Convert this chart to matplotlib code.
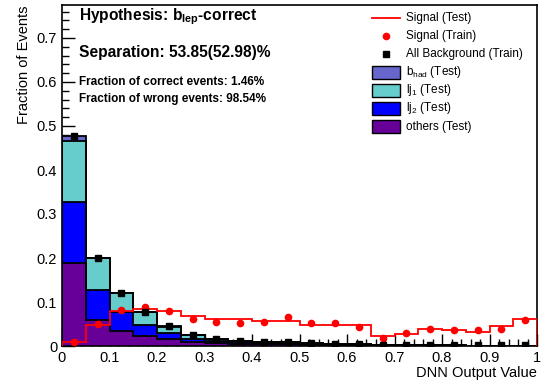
import numpy as np
import matplotlib.pyplot as plt
from matplotlib.lines import Line2D
from matplotlib.patches import Rectangle
from matplotlib.ticker import MultipleLocator

plt.rcParams['font.family'] = ['Liberation Sans', 'DejaVu Sans']
plt.rcParams['mathtext.fontset'] = 'custom'
plt.rcParams['mathtext.rm'] = 'Liberation Sans'
plt.rcParams['mathtext.bf'] = 'Liberation Sans:bold'

edges = np.linspace(0, 1, 21)
centers = 0.5 * (edges[:-1] + edges[1:])

# background components (Test), stacked bottom -> top
others = [0.189, 0.059, 0.035, 0.023, 0.016, 0.010, 0.007, 0.005, 0.004, 0.004,
          0.003, 0.002, 0.002, 0.001, 0.001, 0.001, 0.001, 0.000, 0.000, 0.000]
lj2 = [0.139, 0.068, 0.042, 0.025, 0.013, 0.006, 0.004, 0.003, 0.002, 0.002,
       0.002, 0.001, 0.001, 0.001, 0.001, 0.000, 0.000, 0.000, 0.000, 0.000]
lj1 = [0.139, 0.072, 0.043, 0.029, 0.015, 0.009, 0.005, 0.003, 0.002, 0.002,
       0.001, 0.002, 0.001, 0.001, 0.000, 0.001, 0.001, 0.001, 0.001, 0.001]
bhad = [0.011, 0.001, 0.001, 0.001, 0.001, 0.000, 0.000, 0.000, 0.000, 0.000,
        0.000, 0.000, 0.000, 0.000, 0.000, 0.000, 0.000, 0.000, 0.000, 0.000]

bkg_train = [0.478, 0.199, 0.120, 0.077, 0.045, 0.024, 0.016, 0.012, 0.010, 0.009,
             0.006, 0.005, 0.004, 0.003, 0.002, 0.002, 0.002, 0.002, 0.002, 0.002]

sig_test = [0.008, 0.048, 0.080, 0.084, 0.080, 0.069, 0.061, 0.061, 0.056, 0.056,
            0.048, 0.048, 0.048, 0.023, 0.027, 0.039, 0.036, 0.032, 0.045, 0.061]
sig_train = [0.010, 0.049, 0.082, 0.089, 0.080, 0.061, 0.054, 0.052, 0.055, 0.065,
             0.053, 0.053, 0.044, 0.019, 0.029, 0.039, 0.037, 0.036, 0.039, 0.060]

layers = [(others, '#660099'), (lj2, '#0000ff'), (lj1, '#66cccc'), (bhad, '#6666cc')]

W, H = 542, 380
fig = plt.figure(figsize=(W / 100, H / 100), dpi=100)
ax = fig.add_axes([62 / W, 34 / H, 475 / W, 341 / H])

base = np.zeros(20)
for vals, col in layers:
    top = base + np.array(vals)
    ax.stairs(top, edges, baseline=base, fill=True, color=col, zorder=2)
    base = top
base = np.zeros(20)
for vals, col in layers:
    base = base + np.array(vals)
    ax.stairs(base, edges, color='black', lw=1.3, zorder=3)

ax.stairs(sig_test, edges, color='red', lw=1.3, zorder=4)
ax.plot(centers, sig_train, 'o', color='red', ms=4.5, zorder=5)
ax.plot(centers, bkg_train, 's', color='black', ms=4.5, zorder=5)

ax.set_xlim(0, 1)
ax.set_ylim(0, 0.775)
ax.xaxis.set_major_locator(MultipleLocator(0.1))
ax.xaxis.set_minor_locator(MultipleLocator(0.02))
ax.yaxis.set_major_locator(MultipleLocator(0.1))
ax.yaxis.set_minor_locator(MultipleLocator(0.02))
fmt = plt.FuncFormatter(lambda v, p: '%g' % round(v, 2))
ax.xaxis.set_major_formatter(fmt)
ax.yaxis.set_major_formatter(fmt)
ax.tick_params(which='both', direction='in', top=False, right=False, labelsize=10.5)
ax.tick_params(which='major', length=9, width=1)
ax.tick_params(which='minor', length=5, width=1)
for s in ax.spines.values():
    s.set_linewidth(1.2)

ax.set_ylabel('Fraction of Events', fontsize=10.5, loc='top')
ax.set_xlabel('DNN Output Value', fontsize=10.5, loc='right', labelpad=1)

fig.text(79 / W, 1 - 17 / H, r'Hypothesis: b$_{\bf lep}$-correct', fontsize=11.2,
         fontweight='bold', va='center')
fig.text(79 / W, 1 - 52 / H, 'Separation: 53.85(52.98)%', fontsize=11.2,
         fontweight='bold', va='center')
fig.text(79 / W, 1 - 82 / H, 'Fraction of correct events: 1.46%', fontsize=8.5,
         fontweight='bold', va='center')
fig.text(79 / W, 1 - 99 / H, 'Fraction of wrong events: 98.54%', fontsize=8.5,
         fontweight='bold', va='center')

# legend, drawn row by row
labels = ['Signal (Test)', 'Signal (Train)', 'All Background (Train)',
          r'b$_{\rm had}$ (Test)', r'lj$_{1}$ (Test)', r'lj$_{2}$ (Test)',
          'others (Test)']
kinds = ['line', 'dot', 'square', '#6666cc', '#66cccc', '#0000ff', '#660099']
x0, x1, xt = 372 / W, 400 / W, 406 / W
for i, (lab, kind) in enumerate(zip(labels, kinds)):
    yc = 1 - (18 + 18.1 * i) / H
    if kind == 'line':
        fig.add_artist(Line2D([x0, x1], [yc, yc], color='red', lw=1.3))
    elif kind == 'dot':
        fig.add_artist(Line2D([(x0 + x1) / 2], [yc], color='red', marker='o', ms=4.5))
    elif kind == 'square':
        fig.add_artist(Line2D([(x0 + x1) / 2], [yc], color='black', marker='s', ms=4.5))
    else:
        fig.add_artist(Rectangle((x0, yc - 6.5 / H), x1 - x0, 13 / H,
                                 facecolor=kind, edgecolor='black', lw=1.0))
    fig.text(xt, yc, lab, fontsize=8.5, va='center')

fig.savefig('out.png', dpi=100)
